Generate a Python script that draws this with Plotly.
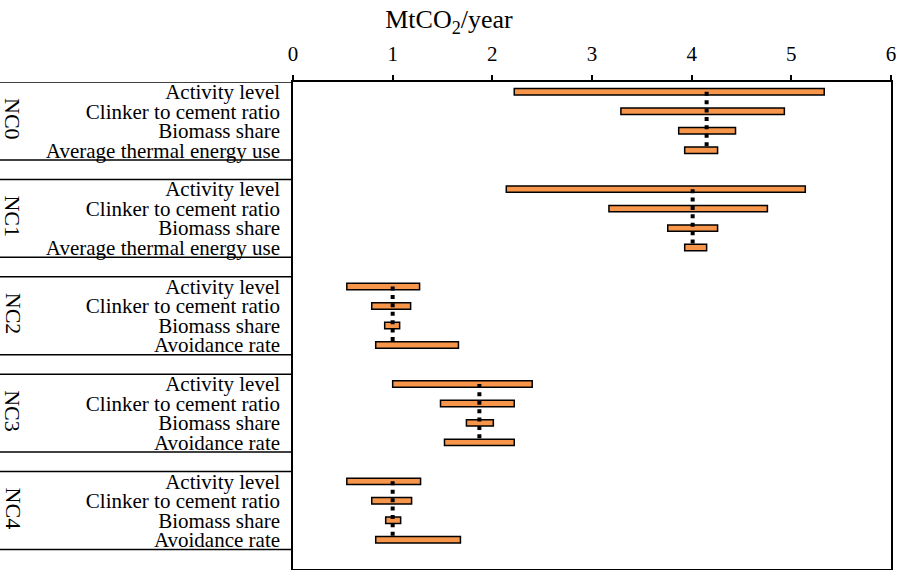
import plotly.graph_objects as go

# ---------------- data ----------------
groups = ["NC0", "NC1", "NC2", "NC3", "NC4"]
factors = [
    ["Activity level", "Clinker to cement ratio", "Biomass share", "Average thermal energy use"],
    ["Activity level", "Clinker to cement ratio", "Biomass share", "Average thermal energy use"],
    ["Activity level", "Clinker to cement ratio", "Biomass share", "Avoidance rate"],
    ["Activity level", "Clinker to cement ratio", "Biomass share", "Avoidance rate"],
    ["Activity level", "Clinker to cement ratio", "Biomass share", "Avoidance rate"],
]
low_values = [
    [2.22, 3.29, 3.87, 3.93],
    [2.14, 3.17, 3.76, 3.93],
    [0.54, 0.79, 0.92, 0.83],
    [1.00, 1.48, 1.74, 1.52],
    [0.54, 0.79, 0.93, 0.83],
]
high_values = [
    [5.33, 4.93, 4.44, 4.26],
    [5.14, 4.76, 4.26, 4.15],
    [1.27, 1.18, 1.07, 1.66],
    [2.40, 2.22, 2.01, 2.22],
    [1.28, 1.19, 1.08, 1.68],
]
baselines = [4.15, 4.01, 1.00, 1.87, 1.00]
x_ticks = [0, 1, 2, 3, 4, 5, 6]
x_title = "MtCO<sub>2</sub>/year"

# ---------------- layout helpers ----------------
W, H = 898, 570
PLOT_L, PLOT_R = 293, 891
FONT = "Liberation Serif"
ORANGE = "#F7964A"
ROWS_PER_GROUP = 5  # 4 factors + 1 blank row

ys, lows, widths, labels = [], [], [], []
for g, facs in enumerate(factors):
    for j, f in enumerate(facs):
        ys.append(g * ROWS_PER_GROUP + j)
        lows.append(low_values[g][j])
        widths.append(high_values[g][j] - low_values[g][j])
        labels.append(f)
n_rows = len(groups) * ROWS_PER_GROUP - 1

fig = go.Figure()
fig.add_trace(go.Bar(
    orientation="h", y=ys, x=widths, base=lows, width=0.33,
    marker=dict(color=ORANGE, line=dict(color="black", width=1.5)),
    hoverinfo="skip", showlegend=False,
))

for g, b in enumerate(baselines):
    y0 = g * ROWS_PER_GROUP
    fig.add_trace(go.Scatter(
        x=[b, b], y=[y0, y0 + len(factors[g]) - 1], mode="lines",
        line=dict(color="black", width=4, dash="4px,4.4px"),
        hoverinfo="skip", showlegend=False,
    ))

dom0 = PLOT_L / W
shapes, annotations = [], []
for g, name in enumerate(groups):
    top = g * ROWS_PER_GROUP - 0.5
    bot = g * ROWS_PER_GROUP + len(factors[g]) - 0.5
    for yy in (top, bot):
        shapes.append(dict(type="line", xref="paper", yref="y", x0=0, x1=dom0,
                           y0=yy, y1=yy, line=dict(color="black", width=1.5)))
    annotations.append(dict(
        xref="paper", yref="y", x=13 / W, y=(top + bot) / 2 - 0.1, text=name,
        textangle=90, showarrow=False, xanchor="center", yanchor="middle",
        font=dict(family=FONT, size=22, color="black"),
    ))

fig.update_layout(
    width=W, height=H,
    margin=dict(l=0, r=0, t=82, b=1),
    paper_bgcolor="white", plot_bgcolor="white",
    font=dict(family=FONT, color="black"),
    barmode="overlay",
    shapes=shapes, annotations=annotations,
    title=dict(text=x_title, x=0.5, xref="paper", xanchor="center",
               y=1 - 19 / H, yref="container", yanchor="middle",
               font=dict(family=FONT, size=26, color="black")),
    xaxis=dict(
        domain=[dom0, PLOT_R / W], side="top", range=[0, 6],
        tickvals=x_ticks, ticktext=[str(t) for t in x_ticks],
        ticks="outside", ticklen=5, tickwidth=1.5, tickcolor="black",
        showline=True, mirror=True, linewidth=1.5, linecolor="black",
        showgrid=False, zeroline=False, automargin=False,
        tickfont=dict(family=FONT, size=21, color="black"),
        ticklabelstandoff=6,
    ),
    yaxis=dict(
        range=[n_rows + 0.5, -0.5], tickvals=ys, ticktext=labels,
        ticks="", showline=True, mirror=True, linewidth=1.5, linecolor="black",
        showgrid=False, zeroline=False, automargin=False,
        tickfont=dict(family=FONT, size=21, color="black"),
        ticklabelstandoff=7,
    ),
)

fig.write_html("out.html",
               config={"displayModeBar": False},
               post_script="document.body.style.margin='0px';document.body.style.overflow='hidden';")
